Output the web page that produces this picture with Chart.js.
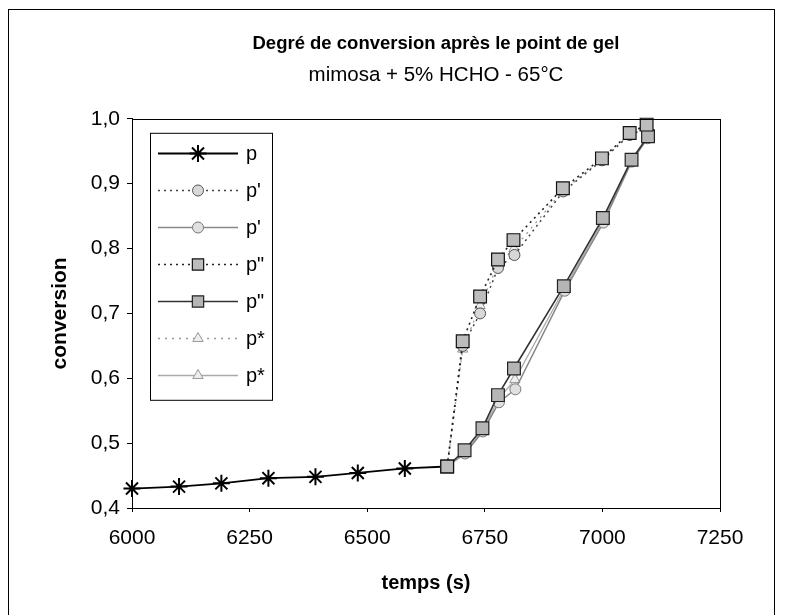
<!DOCTYPE html>
<html><head><meta charset="utf-8">
<script src="https://cdn.jsdelivr.net/npm/chart.js@4.4.0/dist/chart.umd.min.js"></script>
<style>
html,body{margin:0;padding:0;background:#fff;overflow:hidden;width:800px;height:615px;}
#wrap{position:relative;width:800px;height:615px;overflow:hidden;background:#fff;}
#frame{position:absolute;left:8px;top:9px;width:767px;height:640px;border:1px solid #000;box-sizing:border-box;pointer-events:none;}
canvas{position:absolute;left:0;top:0;}
</style></head>
<body><div id="wrap"><canvas id="c" width="872" height="615"></canvas><div id="frame"></div></div>
<script>
// ---- data ----
const seriesLabels = ['p', "p'", "p'", 'p"', 'p"', 'p*', 'p*'];

const timeP = [6000, 6100, 6190, 6290, 6390, 6480, 6580, 6670];
const convP = [0.430, 0.433, 0.438, 0.446, 0.448, 0.454, 0.461, 0.464];

const timePrimeDot = [6670, 6703, 6740, 6778, 6813, 6917, 6999, 7058, 7093];
const convPrimeDot = [0.464, 0.650, 0.700, 0.770, 0.790, 0.888, 0.936, 0.975, 0.985];

const timePrimeSolid = [6670, 6708, 6746, 6780, 6815, 6920, 7002, 7062, 7096];
const convPrimeSolid = [0.464, 0.484, 0.518, 0.563, 0.583, 0.735, 0.840, 0.934, 0.970];

const timeSecDot = [6670, 6703, 6740, 6778, 6811, 6916, 6999, 7058, 7094];
const convSecDot = [0.464, 0.657, 0.726, 0.783, 0.813, 0.893, 0.939, 0.978, 0.991];

const timeSecSolid = [6670, 6707, 6745, 6778, 6812, 6918, 7001, 7062, 7097];
const convSecSolid = [0.464, 0.489, 0.523, 0.574, 0.615, 0.742, 0.847, 0.937, 0.973];

const timeStarDot = [6670, 6703, 6740, 6778, 6812, 6917, 6999, 7058, 7094];
const convStarDot = [0.464, 0.645, 0.712, 0.775, 0.800, 0.890, 0.937, 0.976, 0.988];

const timeStarSolid = [6670, 6708, 6746, 6779, 6814, 6919, 7001, 7062, 7096];
const convStarSolid = [0.464, 0.486, 0.520, 0.568, 0.598, 0.738, 0.843, 0.935, 0.971];

const xTickLabels = ['6000', '6250', '6500', '6750', '7000', '7250'];
const yTickLabels = ['0,4', '0,5', '0,6', '0,7', '0,8', '0,9', '1,0'];

const titleText = 'Degré de conversion après le point de gel';
const subtitleText = 'mimosa + 5% HCHO - 65°C';
const xTitle = 'temps (s)';
const yTitle = 'conversion';
// --------------------------------------

const FONT = "'Liberation Sans', Arial, sans-serif";
const pts = (xs, ys) => xs.map((x, i) => ({x: x, y: ys[i]}));

const datasets = [
  {label: seriesLabels[0], data: pts(timeP, convP), borderColor: '#000', backgroundColor: '#000',
   borderWidth: 1.8, pointStyle: 'star', pointRadius: [8.5,8.5,8.5,8.5,8.5,8.5,8.5,0], legendRadius: 8.5, pointBorderWidth: 2,
   pointBorderColor: '#000', order: 1},
  {label: seriesLabels[1], data: pts(timePrimeDot, convPrimeDot), borderColor: '#444', backgroundColor: '#d8d8d8',
   borderWidth: 1.5, borderDash: [2, 4], pointStyle: 'circle', pointRadius: 5.5, legendRadius: 5.5, pointBorderWidth: 1,
   pointBorderColor: '#555', order: 2},
  {label: seriesLabels[2], data: pts(timePrimeSolid, convPrimeSolid), borderColor: '#888', backgroundColor: '#e0e0e0',
   borderWidth: 1.5, pointStyle: 'circle', pointRadius: 5.5, legendRadius: 5.5, pointBorderWidth: 1,
   pointBorderColor: '#777', order: 2},
  {label: seriesLabels[3], data: pts(timeSecDot, convSecDot), borderColor: '#222', backgroundColor: '#bdbdbd',
   borderWidth: 1.6, borderDash: [2, 4], pointStyle: 'rect', pointRadius: 9, legendRadius: 8, pointBorderWidth: 1.2,
   pointBorderColor: '#111', order: 0},
  {label: seriesLabels[4], data: pts(timeSecSolid, convSecSolid), borderColor: '#333', backgroundColor: '#b5b5b5',
   borderWidth: 1.6, pointStyle: 'rect', pointRadius: 9, legendRadius: 8, pointBorderWidth: 1.2,
   pointBorderColor: '#222', order: 0},
  {label: seriesLabels[5], data: pts(timeStarDot, convStarDot), borderColor: '#999', backgroundColor: '#eee',
   borderWidth: 1.3, borderDash: [2, 5], pointStyle: 'triangle', pointRadius: 6, legendRadius: 6, pointBorderWidth: 1,
   pointBorderColor: '#999', order: 3},
  {label: seriesLabels[6], data: pts(timeStarSolid, convStarSolid), borderColor: '#aaa', backgroundColor: '#eee',
   borderWidth: 1.3, pointStyle: 'triangle', pointRadius: 6, legendRadius: 6, pointBorderWidth: 1,
   pointBorderColor: '#999', order: 3}
].map(d => Object.assign({showLine: true, fill: false, tension: 0, clip: false,
  pointBackgroundColor: d.backgroundColor}, d));

const framePlugin = {
  id: 'plotFrame',
  afterDraw(chart) {
    const a = chart.chartArea, ctx = chart.ctx;
    ctx.save();
    ctx.strokeStyle = '#000'; ctx.lineWidth = 1;
    ctx.strokeRect(Math.round(a.left) + 0.5, Math.round(a.top) + 0.5,
                   Math.round(a.right - a.left), Math.round(a.bottom - a.top));
    ctx.restore();
  }
};

const boxLegend = {
  id: 'boxLegend',
  afterDraw(chart) {
    const ctx = chart.ctx, a = chart.chartArea;
    const ds = chart.data.datasets;
    const x0 = a.left + 18, y0 = a.top + 14, w = 122, rowH = 37;
    const h = Math.round(ds.length * rowH + 8);
    ctx.save();
    ctx.fillStyle = '#fff';
    ctx.fillRect(x0, y0, w, h);
    ctx.strokeStyle = '#000'; ctx.lineWidth = 1;
    ctx.strokeRect(x0 + 0.5, y0 + 0.5, w, h);
    ds.forEach((d, i) => {
      const cy = Math.round(y0 + 20 + i * rowH) + 0.5;
      ctx.save();
      ctx.setLineDash(d.borderDash || []);
      ctx.strokeStyle = d.borderColor; ctx.lineWidth = d.borderWidth;
      ctx.beginPath(); ctx.moveTo(x0 + 8, cy); ctx.lineTo(x0 + 88, cy); ctx.stroke();
      ctx.setLineDash([]);
      ctx.fillStyle = d.pointBackgroundColor;
      ctx.strokeStyle = d.pointBorderColor; ctx.lineWidth = d.pointBorderWidth;
      Chart.helpers.drawPoint(ctx, {pointStyle: d.pointStyle, rotation: 0,
        radius: d.legendRadius, borderWidth: d.pointBorderWidth}, x0 + 48, cy);
      ctx.restore();
      ctx.fillStyle = '#000';
      ctx.font = '20px ' + FONT;
      ctx.textBaseline = 'middle'; ctx.textAlign = 'left';
      ctx.fillText(d.label, x0 + 96, cy + 1);
    });
    ctx.restore();
  }
};

new Chart(document.getElementById('c'), {
  type: 'scatter',
  data: {datasets: datasets},
  plugins: [framePlugin, boxLegend],
  options: {
    responsive: false,
    animation: false,
    events: [],
    layout: {padding: {left: 0, right: 0, top: 0, bottom: 0}},
    plugins: {
      legend: {display: false},
      tooltip: {enabled: false},
      title: {display: true, text: titleText, color: '#000',
        font: {family: FONT, size: 18.5, weight: 'bold'}, padding: {top: 33, bottom: 8}},
      subtitle: {display: true, text: subtitleText, color: '#000',
        font: {family: FONT, size: 20.5}, padding: {top: 0, bottom: 31}}
    },
    scales: {
      x: {
        type: 'linear', min: 6000, max: 7250,
        afterFit: s => { s.height = 107; },
        ticks: {stepSize: 250, autoSkip: false, maxRotation: 0, color: '#000', padding: 14,
          font: {family: FONT, size: 21},
          callback: (v) => xTickLabels[Math.round((v - 6000) / 250)]},
        grid: {display: true, drawOnChartArea: false, drawTicks: true, tickLength: 4, color: '#000'},
        border: {display: true, color: '#000', width: 1},
        title: {display: true, text: xTitle, color: '#000',
          font: {family: FONT, size: 20, weight: 'bold'}, padding: {top: 0, bottom: 20}}
      },
      y: {
        type: 'linear', min: 0.4, max: 1.0,
        afterFit: s => { s.width = 132; },
        ticks: {stepSize: 0.1, color: '#000', padding: 7,
          font: {family: FONT, size: 21},
          callback: (v) => yTickLabels[Math.round((v - 0.4) * 10)]},
        grid: {display: true, drawOnChartArea: false, drawTicks: true, tickLength: 5, color: '#000'},
        border: {display: true, color: '#000', width: 1},
        title: {display: true, text: yTitle, color: '#000',
          font: {family: FONT, size: 21, weight: 'bold'}, padding: {top: 48, bottom: 0}}
      },
      yRightSpace: {
        type: 'linear', position: 'right', axis: 'y', display: true,
        afterFit: s => { s.width = 152; },
        ticks: {display: false},
        grid: {display: false},
        border: {display: false},
        title: {display: false}
      }
    }
  }
});
</script>
</body></html>
